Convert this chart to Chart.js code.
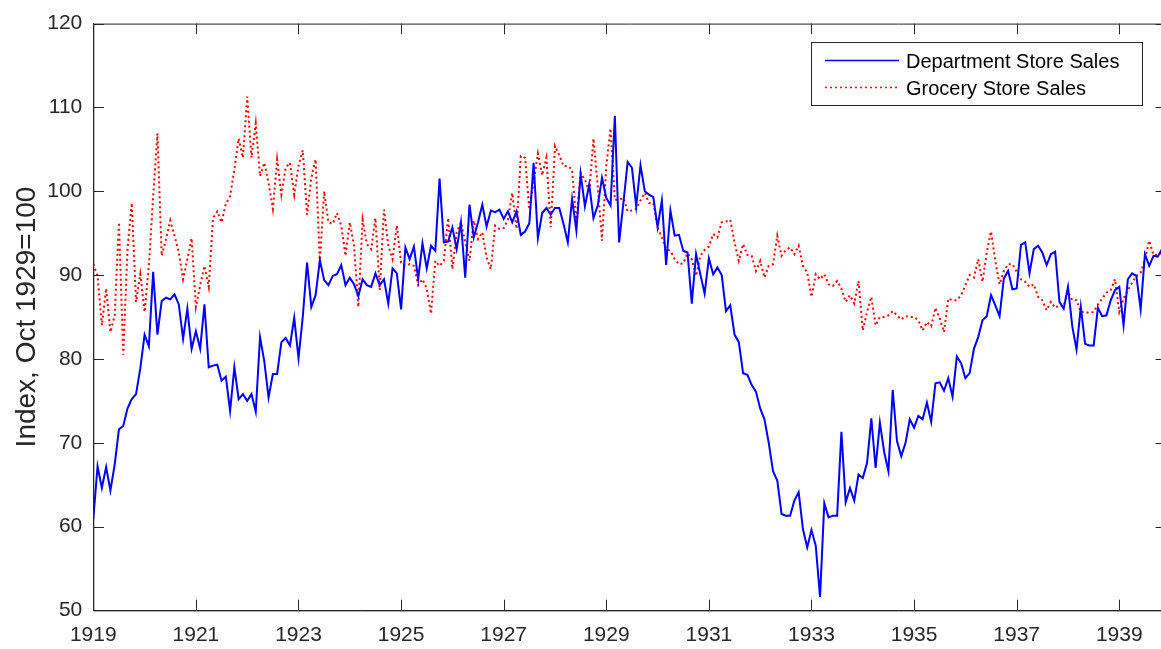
<!DOCTYPE html>
<html><head><meta charset="utf-8">
<script src="https://cdn.jsdelivr.net/npm/chart.js@4.4.1/dist/chart.umd.min.js"></script>
<style>
html,body{margin:0;padding:0;overflow:hidden;background:#fff;width:1161px;height:649px}
#wrap{position:relative;width:1175px;height:649px}
</style>
</head><body><div id="wrap"><canvas id="c" width="1175" height="649"></canvas></div>
<script>
const startYear = 1919;
const lastMonthIndex = 251;
const yearTicks = [1919,1921,1923,1925,1927,1929,1931,1933,1935,1937,1939];
const yTicks = [50,60,70,80,90,100,110,120];
const seriesLabels = ['Department Store Sales','Grocery Store Sales'];
const yTitle = 'Index, Oct 1929=100';

const deptSales = [60.9,67.2,64.6,67.1,64.3,67.4,71.6,72.0,74.1,75.2,
75.8,78.9,82.9,81.5,90.4,82.9,86.9,87.3,87.1,87.7,
86.5,82.4,86.0,81.2,83.3,81.2,86.5,79.0,79.2,79.3,
77.4,77.9,73.8,79.0,75.2,75.8,75.0,75.8,73.7,82.6,
79.7,75.4,78.2,78.2,82.0,82.5,81.6,84.9,80.1,85.0,
91.5,86.2,87.6,91.8,89.4,88.8,89.9,90.1,91.2,88.8,
89.7,88.9,87.5,89.5,88.8,88.6,90.2,88.8,89.5,86.6,
90.8,90.2,85.9,93.3,91.9,93.4,89.5,93.8,90.8,93.5,
92.9,101.5,93.9,94.0,95.7,93.1,96.3,89.7,98.4,94.5,
96.3,98.4,95.8,97.7,97.5,97.8,96.7,97.6,96.3,97.6,
94.8,95.2,96.2,103.4,94.4,97.4,98.0,97.2,98.0,98.0,
96.1,93.9,99.1,95.3,102.1,98.2,100.8,96.8,98.3,101.6,
99.2,98.3,109.0,93.9,98.6,103.5,102.8,98.2,103.1,100.0,
99.6,99.3,95.7,98.9,91.2,97.7,94.7,94.8,92.9,92.7,
86.6,92.5,90.1,87.8,92.0,90.1,90.9,90.0,85.7,86.4,
82.9,82.0,78.3,78.1,76.9,76.1,74.1,72.8,70.0,66.6,
65.5,61.5,61.3,61.3,63.1,64.1,59.7,57.5,59.6,57.7,
51.6,62.8,61.1,61.3,61.3,71.3,62.9,64.6,63.1,66.2,
65.8,67.6,72.9,67.0,72.4,68.9,66.6,76.3,70.2,68.4,
70.0,72.8,71.8,73.2,72.8,74.8,72.5,77.1,77.2,76.2,
77.7,75.5,80.3,79.5,77.7,78.3,81.2,82.6,84.6,85.1,
87.6,86.4,85.1,89.6,90.5,88.3,88.4,93.6,93.9,90.2,
93.1,93.5,92.7,91.2,92.5,92.8,86.8,86.0,88.6,83.9,
81.1,86.2,81.8,81.6,81.6,86.1,85.1,85.2,87.0,88.2,
88.6,84.0,89.5,90.2,89.9,85.9,92.5,91.1,92.3,92.2,
93.1];

const grocerySales = [91.3,89.9,84.0,88.4,83.2,85.2,96.3,80.5,93.1,98.6,
86.8,90.1,85.6,91.1,99.4,106.9,92.3,94.3,96.5,94.7,
92.7,89.5,91.9,94.4,86.2,88.8,91.1,88.6,96.8,97.6,
96.3,98.5,99.4,102.6,106.3,104.0,111.3,104.0,108.1,101.8,
103.4,101.0,97.9,103.8,99.6,102.8,103.4,99.6,103.0,104.9,
97.2,101.6,103.8,91.5,100.0,96.3,96.1,97.4,95.9,92.3,
96.3,93.5,86.2,96.6,93.7,93.1,96.8,88.2,97.8,93.5,
91.9,95.9,91.5,91.1,91.3,91.1,88.8,89.5,88.4,85.4,
91.7,91.1,91.7,96.8,90.7,95.1,96.3,93.9,91.7,96.5,
94.3,95.1,92.1,90.7,95.9,95.5,95.6,96.6,99.8,95.5,
104.2,104.0,97.8,101.1,104.5,101.9,104.0,95.7,105.4,104.3,
103.0,103.0,102.6,96.3,102.2,101.4,99.8,106.3,100.6,94.1,
103.0,107.5,99.0,99.0,99.2,97.6,97.7,97.9,98.9,99.8,
98.6,98.6,95.7,94.5,93.1,92.9,91.9,91.3,91.4,92.6,
91.9,89.9,92.3,93.0,93.4,94.9,94.5,96.3,96.4,96.6,
93.9,91.7,93.7,92.4,92.3,90.5,91.7,89.7,91.1,91.3,
94.7,92.3,93.0,93.3,92.5,93.5,91.1,90.3,87.4,90.1,
89.5,90.1,88.9,88.7,89.3,88.4,86.8,87.6,86.6,89.3,
83.4,85.6,87.4,84.0,85.0,85.0,85.2,85.7,85.2,84.7,
85.1,85.0,85.0,84.6,83.4,84.4,83.9,86.1,84.8,83.2,
87.2,87.0,87.0,87.6,88.8,90.0,89.7,91.9,89.2,92.7,
95.2,91.7,88.9,90.5,91.3,91.3,90.4,89.5,89.2,88.6,
88.9,87.4,87.0,85.8,86.8,86.1,86.4,86.3,88.0,87.0,
87.0,85.6,85.6,85.5,85.6,86.5,87.2,87.9,88.2,89.5,
85.6,87.2,88.2,89.1,89.9,90.3,91.9,94.1,92.4,92.4,
92.7];

const axisColor = '#262626';
const fontFamily = '"Liberation Sans", Arial, Helvetica, sans-serif';

const toPoints = arr => arr.map((v, i) => ({x: startYear + i / 12, y: v}));

const boxPlugin = {
  id: 'boxTicks',
  afterDatasetsDraw(chart) {
    const {ctx, chartArea: a, scales} = chart;
    const tl = 10.7;
    ctx.save();
    ctx.strokeStyle = axisColor;
    ctx.lineWidth = 1;
    ctx.beginPath();
    ctx.rect(a.left + 0.5, a.top + 0.5, a.right - a.left, a.bottom - a.top);
    yearTicks.forEach(t => {
      const x = Math.round(scales.x.getPixelForValue(t)) + 0.5;
      ctx.moveTo(x, a.bottom); ctx.lineTo(x, a.bottom - tl);
      ctx.moveTo(x, a.top); ctx.lineTo(x, a.top + tl);
    });
    yTicks.forEach(t => {
      const y = Math.round(scales.y.getPixelForValue(t)) + 0.5;
      ctx.moveTo(a.left, y); ctx.lineTo(a.left + tl, y);
      ctx.moveTo(a.right, y); ctx.lineTo(a.right - tl, y);
    });
    ctx.stroke();

    // legend
    const bx = 811.5, by = 42.5, bw = 331, bh = 63;
    ctx.fillStyle = '#fff';
    ctx.fillRect(bx, by, bw, bh);
    ctx.strokeRect(bx, by, bw, bh);
    const rows = [60.5, 87.5];
    chart.data.datasets.forEach((ds, i) => {
      ctx.save();
      ctx.strokeStyle = ds.borderColor;
      ctx.lineWidth = 1.3;
      ctx.setLineDash(ds.borderDash || []);
      ctx.beginPath();
      ctx.moveTo(825, rows[i]); ctx.lineTo(899, rows[i]);
      ctx.stroke();
      ctx.restore();
      ctx.fillStyle = '#000';
      ctx.font = '20px ' + fontFamily;
      ctx.textBaseline = 'middle';
      ctx.textAlign = 'left';
      ctx.fillText(ds.label, 906, rows[i] + 1.5);
    });
    ctx.restore();
  }
};

new Chart(document.getElementById('c'), {
  type: 'line',
  data: {
    datasets: [
      {label: seriesLabels[0], data: toPoints(deptSales), borderColor: '#0000ff', borderWidth: 2, pointRadius: 0, tension: 0, fill: false},
      {label: seriesLabels[1], data: toPoints(grocerySales), borderColor: '#ff0000', borderWidth: 2, borderDash: [2, 3], pointRadius: 0, tension: 0, fill: false}
    ]
  },
  options: {
    responsive: false,
    animation: false,
    layout: {padding: {left: 0, top: 19.6, right: 1175 - 1166.3, bottom: 0}},
    plugins: {legend: {display: false}, tooltip: {enabled: false}},
    scales: {
      x: {
        type: 'linear',
        min: startYear,
        max: startYear + lastMonthIndex / 12,
        grid: {display: false, drawTicks: false},
        border: {display: true, color: axisColor, width: 1},
        afterBuildTicks: s => { s.ticks = yearTicks.map(v => ({value: v})); },
        afterFit: s => { s.height = 649 - 610.4; },
        ticks: {color: axisColor, font: {family: fontFamily, size: 21}, padding: 12, maxRotation: 0, autoSkip: false,
                callback: v => String(v)}
      },
      y: {
        min: 50, max: 120,
        grid: {display: false, drawTicks: false},
        border: {display: true, color: axisColor, width: 1},
        afterBuildTicks: s => { s.ticks = yTicks.map(v => ({value: v})); },
        afterFit: s => { s.width = 93.3; },
        ticks: {color: axisColor, font: {family: fontFamily, size: 21}, padding: 11, callback: v => String(v)},
        title: {display: true, text: yTitle, color: axisColor, font: {family: fontFamily, size: 28, lineHeight: 1.2}, padding: {top: 10, bottom: 0}}
      }
    }
  },
  plugins: [boxPlugin]
});
</script>
</body></html>
